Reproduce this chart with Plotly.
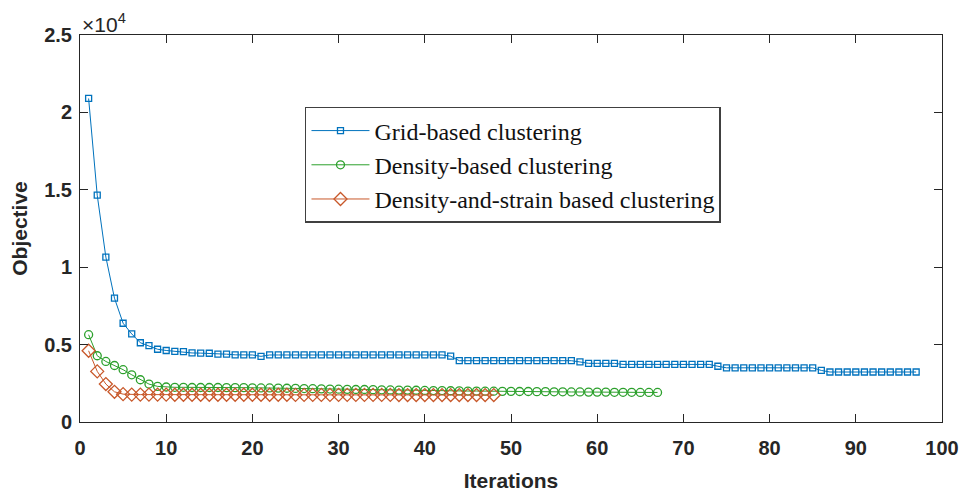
import plotly.graph_objects as go

# ---- data ----
grid_x = list(range(1, 98))
grid_y = ([20900, 14650, 10650, 8000, 6380, 5690, 5120, 4930, 4700, 4620,
           4560, 4540, 4460, 4450, 4440, 4390, 4380, 4340, 4340, 4330,
           4240] + [4330] * 21 + [4250] + [3960] * 14 + [3880] + [3790] * 4 +
          [3720] * 11 + [3600] + [3500] * 11 + [3330] + [3230] * 11)

dens_x = list(range(1, 68))
dens_y = [5640, 4280, 3910, 3650, 3380, 3050, 2730, 2450, 2300, 2260,
          2240, 2240, 2230, 2230, 2230, 2230, 2220, 2220, 2220, 2210,
          2200, 2200, 2190, 2180, 2170, 2160, 2150, 2140, 2130, 2120,
          2110, 2100, 2100, 2090, 2080, 2070, 2060, 2060, 2050, 2040,
          2030, 2030, 2020, 2010, 2000, 2000, 1990, 1990, 1980, 1980,
          1970, 1970, 1960, 1960, 1950, 1950, 1940, 1940, 1930, 1930,
          1930, 1920, 1920, 1920, 1910, 1910, 1910]

strain_x = list(range(1, 49))
strain_y = ([4600, 3270, 2450, 1950, 1800, 1770, 1770, 1770, 1770, 1770] +
            [1760] * 14 + [1750] * 12 + [1740] * 12)

series_names = ["Grid-based clustering", "Density-based clustering",
                "Density-and-strain based clustering"]
x_ticks = [0, 10, 20, 30, 40, 50, 60, 70, 80, 90, 100]
y_ticks = [0, 5000, 10000, 15000, 20000, 25000]
y_tick_labels = ["0", "0.5", "1", "1.5", "2", "2.5"]

# ---- figure ----
colors = ["#0072BD", "#2CA02C", "#C8582A"]
fig = go.Figure()
fig.add_trace(go.Scatter(x=grid_x, y=grid_y, name=series_names[0], mode="lines+markers",
                         line=dict(color=colors[0], width=1),
                         marker=dict(symbol="square-open", size=6, color=colors[0],
                                     line=dict(width=1.3))))
fig.add_trace(go.Scatter(x=dens_x, y=dens_y, name=series_names[1], mode="lines+markers",
                         line=dict(color=colors[1], width=1),
                         marker=dict(symbol="circle-open", size=8, color=colors[1],
                                     line=dict(width=1.3))))
fig.add_trace(go.Scatter(x=strain_x, y=strain_y, name=series_names[2], mode="lines+markers",
                         line=dict(color=colors[2], width=1),
                         marker=dict(symbol="diamond-open", size=10, color=colors[2],
                                     line=dict(width=1.3))))

axis_common = dict(showline=True, linecolor="#262626", linewidth=1, mirror="allticks",
                   ticks="inside", ticklen=8, tickcolor="#262626", showgrid=False,
                   zeroline=False, automargin=False,
                   tickfont=dict(family="Liberation Sans, Arial", size=20, color="#262626",
                                 weight="bold"))

fig.update_xaxes(range=[0, 100], tickvals=x_ticks, ticktext=[str(v) for v in x_ticks],
                 ticklabelstandoff=8,
                 title=dict(text="Iterations", standoff=15,
                            font=dict(family="Liberation Sans, Arial", size=21,
                                      color="#262626", weight="bold")),
                 **axis_common)
fig.update_yaxes(range=[0, 25000], tickvals=y_ticks, ticktext=y_tick_labels,
                 ticklabelstandoff=3,
                 title=dict(text="Objective", standoff=11,
                            font=dict(family="Liberation Sans, Arial", size=21,
                                      color="#262626", weight="bold")),
                 **axis_common)

fig.add_annotation(text="×10<sup>4</sup>", xref="paper", yref="paper", x=0.0, y=1.0,
                   xanchor="left", yanchor="bottom", showarrow=False, yshift=-3,
                   font=dict(family="Liberation Sans, Arial", size=21, color="#262626"))

# page body has an 8px margin; compensate so the plot area lands where the reference has it
fig.update_layout(
    width=959, height=487,
    margin=dict(l=72, r=25, t=27, b=73),
    paper_bgcolor="white", plot_bgcolor="white",
    showlegend=True,
    legend=dict(x=0.261, y=0.814, xanchor="left", yanchor="top",
                bgcolor="white", bordercolor="#404040", borderwidth=1.5,
                font=dict(family="Liberation Serif, Times New Roman", size=24, color="#111111"),
                tracegroupgap=0, itemwidth=58),
)

fig.write_html("out.html")
